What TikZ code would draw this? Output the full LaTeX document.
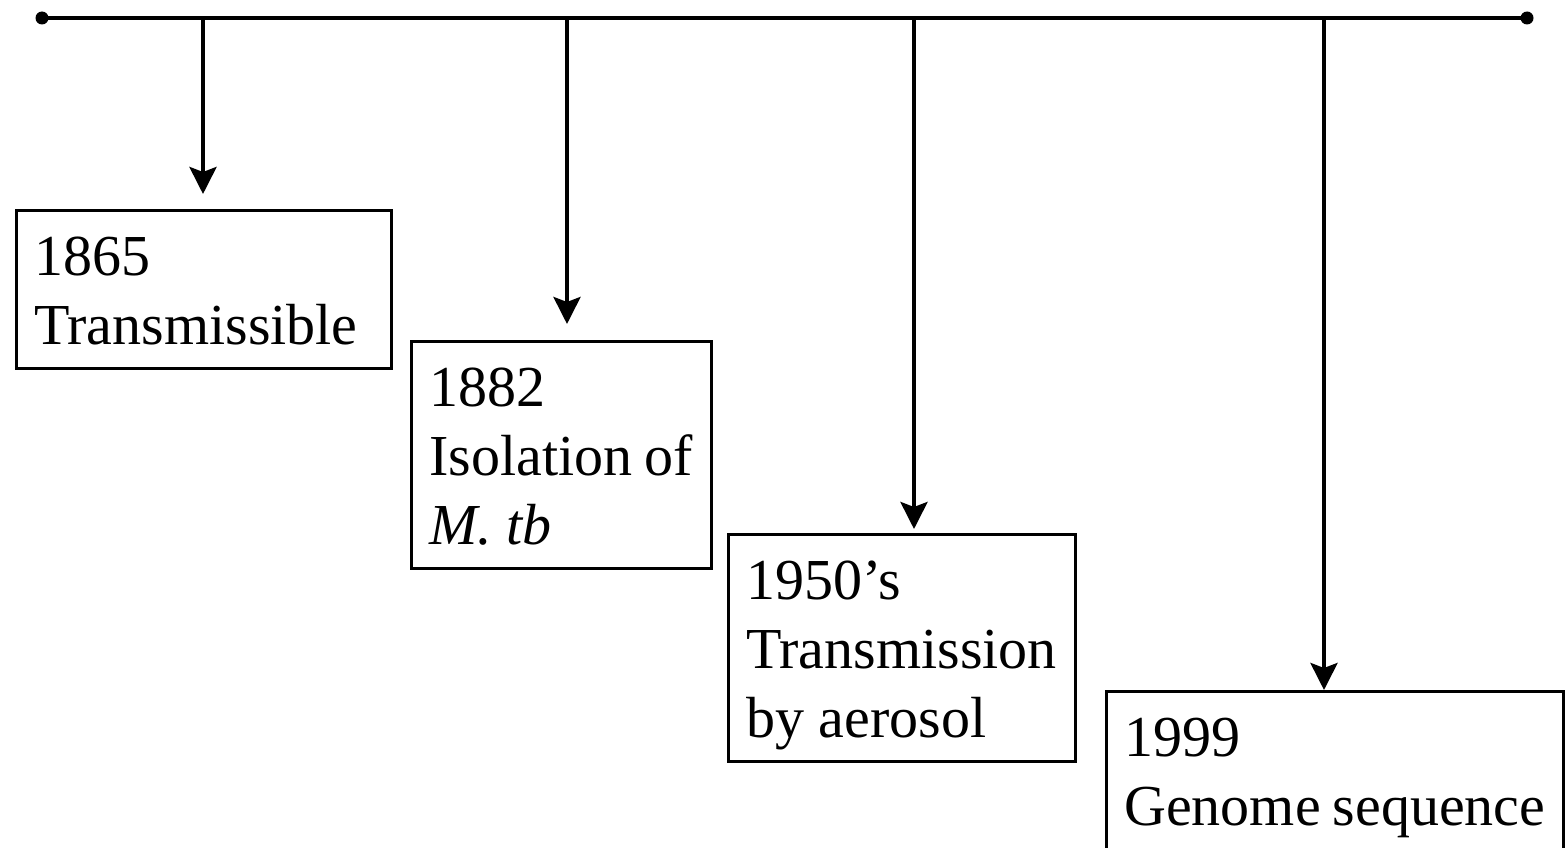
\documentclass[tikz,border=0pt]{standalone}
\usepackage{fontspec}
\setmainfont{Liberation Serif}
\usetikzlibrary{arrows.meta}
\hyphenpenalty=10000

\tikzset{
  event/.style={draw, line width=2.5pt, anchor=north west, align=flush left,
    inner xsep=18pt, inner ysep=24pt, text height=41pt,
    font=\fontsize{58}{69}\selectfont},
  down/.style={line width=4pt, -{Stealth[length=27pt,width=27pt,inset=5pt]}},
}

\begin{document}
\begin{tikzpicture}[x=1pt,y=-1pt]
  \useasboundingbox (0,0) rectangle (1567,848);

  % time line
  \coordinate (start) at (42,18);
  \coordinate (end) at (1527,18);
  \draw[line width=4.5pt] (start) -- (end);
  \fill (start) circle (6.5pt) (end) circle (6.5pt);

  \coordinate (t1865) at (203,18);
  \coordinate (t1882) at (567,18);
  \coordinate (t1950) at (914,18);
  \coordinate (t1999) at (1324,18);

  % events
  \node[event, text width=339pt, text depth=69pt] (e1865) at (15,209)
    {1865\\Transmissible};
  \node[event, text width=264pt, text depth=138pt] (e1882) at (410,340)
    {1882\\Isolation~of\\\textit{M. tb}};
  \node[event, text width=311pt, text depth=138pt] (e1950) at (727,533)
    {1950’s\\Transmission\\by~aerosol};
  \node[event, text width=421pt, text depth=69pt] (e1999) at (1105,690)
    {1999\\Genome~sequence};

  \foreach \n/\gap in {1865/15, 1882/16, 1950/4, 1999/0}
    \draw[down, shorten >=\gap pt] (t\n) -- (t\n |- e\n.north);
\end{tikzpicture}
\end{document}
